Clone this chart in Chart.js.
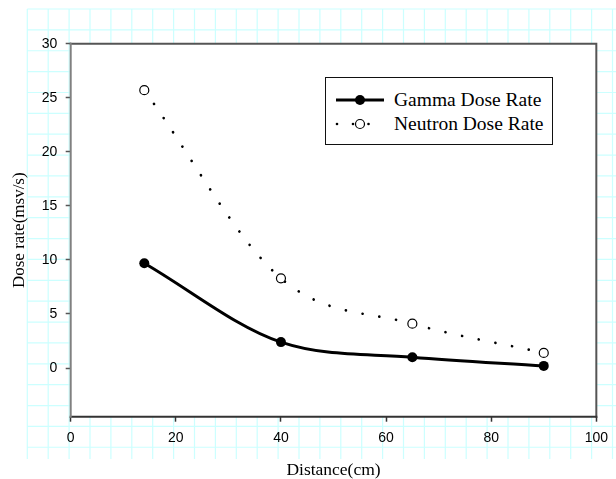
<!DOCTYPE html>
<html>
<head>
<meta charset="utf-8">
<script src="https://cdn.jsdelivr.net/npm/chart.js@4"></script>
<style>
  html, body { margin: 0; padding: 0; background: #fff; }
  #wrap { position: relative; width: 616px; height: 479px; overflow: hidden; }
  #chart { position: absolute; left: 0; top: 0; }
  #legend {
    position: absolute; left: 325px; top: 77px; width: 226px; height: 66px;
    border: 1.5px solid #111; background: #fff; font-family: "Liberation Serif", "Times New Roman", serif;
    font-size: 19.5px; color: #000;
  }
  .item { position: absolute; left: 0; height: 22px; width: 100%; }
  .item svg { position: absolute; left: 8px; top: 0; }
  .item span { position: absolute; left: 68px; top: 0; line-height: 22px; white-space: nowrap; }
</style>
</head>
<body>
<div id="wrap">
  <canvas id="chart" width="616" height="479"></canvas>
  <div id="legend">
    <div class="item" style="top:11px">
      <svg width="52" height="22"><line x1="2" y1="11" x2="50" y2="11" stroke="#000" stroke-width="3"/><circle cx="26" cy="11" r="5" fill="#000"/></svg>
      <span>Gamma Dose Rate</span>
    </div>
    <div class="item" style="top:34.5px">
      <svg width="52" height="22"><circle cx="3" cy="11" r="1.3" fill="#000"/><circle cx="19" cy="11" r="1.3" fill="#000"/><circle cx="26" cy="11" r="4.5" fill="#fff" stroke="#000" stroke-width="1.2"/><circle cx="34.5" cy="11" r="1.3" fill="#000"/></svg>
      <span>Neutron Dose Rate</span>
    </div>
  </div>
</div>
<script>
const distances = [14, 40, 65, 90];
const gammaRate = [9.7, 2.4, 1.0, 0.2];
const neutronRate = [25.7, 8.3, 4.1, 1.4];
const xTickValues = [0, 20, 40, 60, 80, 100];
const yTickValues = [0, 5, 10, 15, 20, 25, 30];
const seriesNames = ['Gamma Dose Rate', 'Neutron Dose Rate'];

const toPoints = (xs, ys) => xs.map((x, i) => ({ x: x, y: ys[i] }));

const paperPlugin = {
  id: 'paper',
  beforeDraw(chart) {
    const ctx = chart.ctx;
    const W = chart.width, H = chart.height;
    ctx.save();
    ctx.fillStyle = '#fff';
    ctx.fillRect(0, 0, W, H);
    ctx.strokeStyle = '#ccffff';
    ctx.lineWidth = 1.2;
    const x0 = 27.3, y0 = 9, step = 20.9, yEnd = 459;
    ctx.beginPath();
    for (let x = x0; x <= W + 1; x += step) {
      ctx.moveTo(x, y0); ctx.lineTo(x, yEnd);
    }
    for (let y = y0; y <= 448; y += 20.87) {
      ctx.moveTo(x0, y); ctx.lineTo(W, y);
    }
    ctx.stroke();
    const a = chart.chartArea;
    ctx.fillStyle = '#fff';
    ctx.fillRect(a.left, a.top, a.right - a.left, a.bottom - a.top);
    ctx.restore();
  },
  beforeDatasetsDraw(chart) {
    const ctx = chart.ctx;
    const a = chart.chartArea;
    ctx.save();
    ctx.lineWidth = 2;
    ctx.lineCap = 'square';
    ctx.strokeStyle = '#555';
    ctx.beginPath();
    ctx.moveTo(a.left, a.top); ctx.lineTo(a.right, a.top); ctx.lineTo(a.right, a.bottom);
    ctx.stroke();
    ctx.strokeStyle = '#333';
    ctx.beginPath();
    ctx.moveTo(a.left, a.bottom); ctx.lineTo(a.right, a.bottom);
    ctx.stroke();
    ctx.strokeStyle = '#808080';
    ctx.beginPath();
    ctx.moveTo(a.left, a.top); ctx.lineTo(a.left, a.bottom);
    ctx.stroke();
    ctx.restore();
  }
};

new Chart(document.getElementById('chart'), {
  type: 'scatter',
  data: {
    datasets: [
      {
        label: seriesNames[0],
        data: toPoints(distances, gammaRate),
        showLine: true,
        borderColor: '#000',
        borderWidth: 3,
        cubicInterpolationMode: 'monotone',
        pointRadius: 5,
        pointBackgroundColor: '#000',
        pointBorderColor: '#000',
        pointBorderWidth: 0
      },
      {
        label: seriesNames[1],
        data: toPoints(distances, neutronRate),
        showLine: true,
        borderColor: '#000',
        borderWidth: 2.7,
        borderDash: [0.01, 17],
        borderCapStyle: 'round',
        cubicInterpolationMode: 'monotone',
        pointRadius: 4.5,
        pointBackgroundColor: '#fff',
        pointBorderColor: '#000',
        pointBorderWidth: 1.2
      }
    ]
  },
  options: {
    responsive: false,
    animation: false,
    layout: { padding: { left: 0, right: 11, top: 43.7, bottom: 0 } },
    plugins: { legend: { display: false }, tooltip: { enabled: false } },
    scales: {
      x: {
        type: 'linear',
        min: 0, max: 100,
        afterBuildTicks: s => { s.ticks = xTickValues.map(v => ({ value: v })); },
        afterFit: s => { s.height = 62.3; },
        grid: { drawOnChartArea: false, drawTicks: true, tickLength: 5, tickColor: '#333', tickWidth: 1.5 },
        border: { display: false },
        ticks: { color: '#000', padding: 8, maxRotation: 0, font: { family: '"Liberation Sans", Arial, sans-serif', size: 14 } },
        title: { display: true, text: 'Distance(cm)', color: '#000', padding: { top: 0, bottom: 0 },
                 font: { family: '"Liberation Serif", "Times New Roman", serif', size: 17.5, lineHeight: 0.95 } }
      },
      y: {
        type: 'linear',
        min: -4.5, max: 30,
        afterBuildTicks: s => { s.ticks = yTickValues.map(v => ({ value: v })); },
        afterFit: s => { s.width = 70.7; },
        grid: { drawOnChartArea: false, drawTicks: true, tickLength: 5, tickColor: '#555', tickWidth: 1.5 },
        border: { display: false },
        ticks: { color: '#000', padding: 8.4, font: { family: '"Liberation Sans", Arial, sans-serif', size: 14 } },
        title: { display: true, text: 'Dose rate(msv/s)', color: '#000', padding: { top: 9.5, bottom: 0 },
                 font: { family: '"Liberation Serif", "Times New Roman", serif', size: 17 } }
      }
    }
  },
  plugins: [paperPlugin]
});
</script>
</body>
</html>
